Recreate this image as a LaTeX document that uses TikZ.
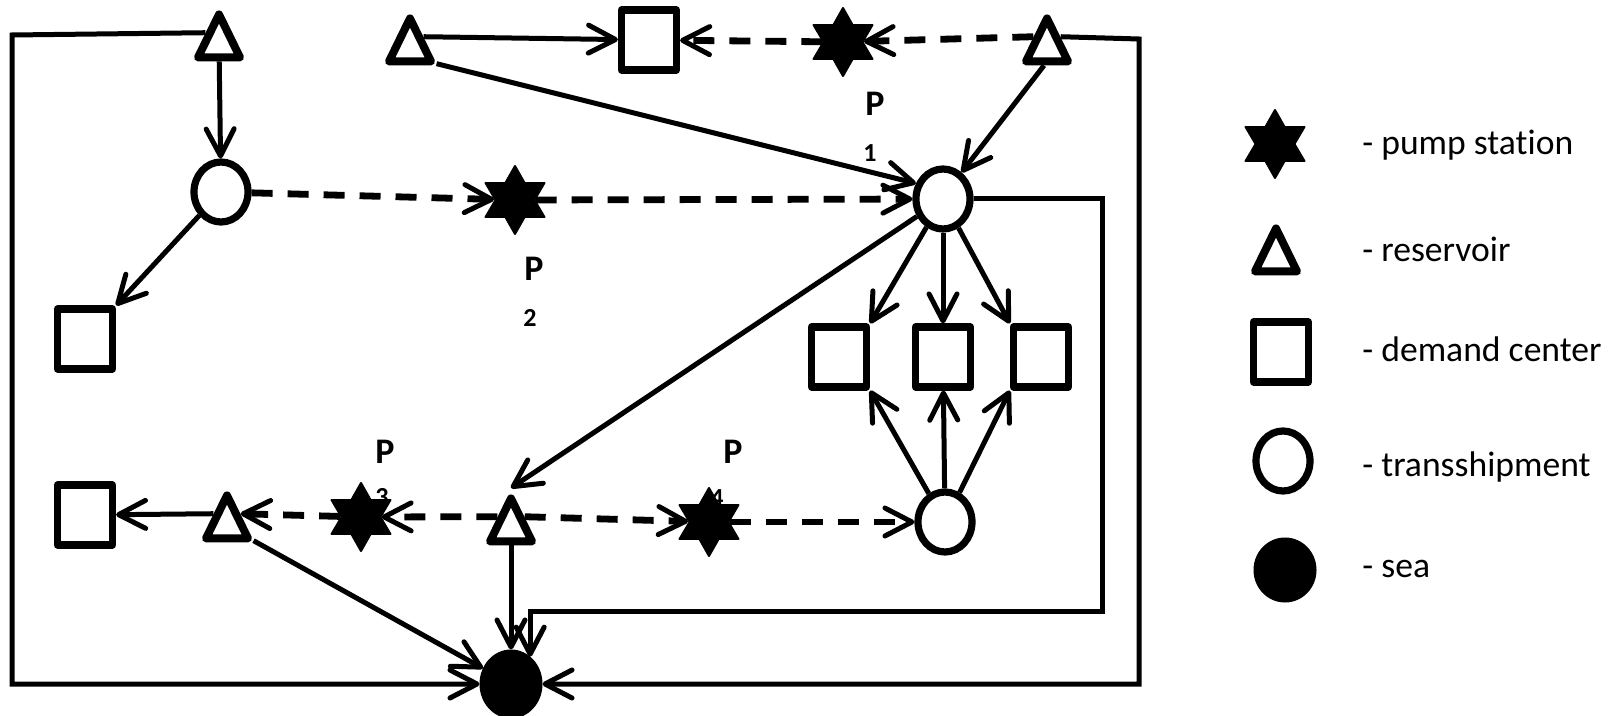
\documentclass[tikz,border=0pt]{standalone}
\usepackage{fontspec}
\setmainfont{Carlito}[Ligatures={NoCommon}]
\usetikzlibrary{shapes.geometric,arrows.meta}

\tikzset{
  tri/.style={isosceles triangle, isosceles triangle stretches, shape border rotate=90,
    minimum width=21pt, minimum height=21.5pt, inner sep=0pt, anchor=apex,
    draw, line width=4pt, line join=round, fill=white},
  sq/.style={rectangle, minimum width=27.5pt, minimum height=30pt, inner sep=0pt,
    draw, line width=3.6pt, line join=round, fill=white},
  tship/.style={ellipse, minimum width=27pt, minimum height=30pt, inner sep=0pt,
    draw, line width=3.6pt, fill=white},
  seanode/.style={ellipse, minimum width=31pt, minimum height=34pt, inner sep=0pt,
    fill=black, draw, line width=0.5pt},
  pump/.style={star, star points=6, star point ratio=1.75, minimum size=34pt, inner sep=0pt,
    fill=black, draw, line width=1pt, line join=round},
  flow/.style={line width=2.5pt,
    -{Straight Barb[length=13.5pt,width=14pt,line width=2.5pt,round]}},
  pumpflow/.style={flow, line width=3.4pt, dash pattern=on 10.5pt off 7.5pt},
  plabel/.style={font=\bfseries\fontsize{18}{18}\selectfont, inner sep=0pt},
  pidx/.style={font=\bfseries\fontsize{13}{13}\selectfont, inner sep=0pt},
  legtext/.style={anchor=base west, inner sep=0pt, font=\fontsize{17.8}{18}\selectfont}
}

\begin{document}
\begin{tikzpicture}[x=0.5pt, y=-0.5pt]
\useasboundingbox[fill=white] (0,0) rectangle (1612,716);

% pump station labels (drawn first so the stars sit on top)
\node[plabel] (P1a) at (875,104) {P};
\node[pidx]   (P1b) at (870,153) {1};
\node[plabel] (P2a) at (534,269) {P};
\node[pidx]   (P2b) at (530,318) {2};
\node[plabel] (P3a) at (385,452) {P};
\node[pidx]   (P3b) at (382,497) {3};
\node[plabel] (P4a) at (733,452) {P};
\node[pidx]   (P4b) at (717,498) {4};

% network nodes (reservoirs are placed by their apex)
\node[tri]   (T1) at (219,4) {};
\node[tri]   (T2) at (410,8) {};
\node[sq]    (S1) at (649,40) {};
\node[pump]  (P1) at (843,42) {};
\node[tri]   (T3) at (1047,8) {};
\node[tship] (C1) at (221,192) {};
\node[pump]  (P2) at (515,200) {};
\node[tship] (C2) at (943,199) {};
\node[sq]    (S2) at (85,339) {};
\node[sq]    (S3) at (839,357) {};
\node[sq]    (S4) at (943,357) {};
\node[sq]    (S5) at (1041,357) {};
\node[tship] (C3) at (945,522) {};
\node[sq]    (S6) at (85,515) {};
\node[tri]   (T4) at (227,485) {};
\node[pump]  (P3) at (361,517) {};
\node[tri]   (T5) at (511,488) {};
\node[pump]  (P4) at (709,522) {};
\node[seanode] (Sea) at (511,684) {};

% bends of the outer and inner return lines
\coordinate (LoopL) at (12,35);
\coordinate (LoopR) at (1139,39);
\coordinate (LoopI) at (1102,611);

% solid flows
\draw[flow] (T1) -- (C1);
\draw[flow] (T1.left side) -- (LoopL) |- (Sea);
\draw[flow] (T2.right side) -- (S1);
\draw[flow] (T2.-30) -- (C2.150);
\draw[flow] (T3.-100) -- (C2.55);
\draw[flow] (T3.right side) -- (LoopR) |- (Sea);
\draw[flow] (C1) -- (S2.north east);
\draw[flow] (C2) -- (T5.apex);
\draw[flow] (C2) -- (S3.north east);
\draw[flow] (C2) -- (S4);
\draw[flow] (C2) -- (S5.north west);
\draw[flow] (C2) -| (LoopI) -| (Sea.55);
\draw[flow] (C3) -- (S3.south east);
\draw[flow] (C3) -- (S4);
\draw[flow] (C3) -- (S5.south west);
\draw[flow] (T4.left side) -- (S6);
\draw[flow] (T4.-30) -- (Sea);
\draw[flow] (T5) -- (Sea);

% pumped flows
\draw[pumpflow] (P1) -- (S1);
\draw[pumpflow] (T3.left side) -- (P1);
\draw[pumpflow] (C1) -- (P2);
\draw[pumpflow] (P2) -- (C2);
\draw[pumpflow] (T5.left side) -- (P3);
\draw[pumpflow] (P3) -- (T4.right side);
\draw[pumpflow] (T5.right side) -- (P4);
\draw[pumpflow] (P4) -- (C3);

% legend
\node[pump]    (LP)   at (1275,144) {};
\node[tri]     (LT)   at (1276,218) {};
\node[sq]      (LS)   at (1281,352) {};
\node[tship]   (LC)   at (1283,461) {};
\node[seanode, minimum height=32pt] (LSea) at (1285,570) {};
\node[legtext] (LPt)  at (1362,155) {- pump station};
\node[legtext] (LTt)  at (1362,262) {- reservoir};
\node[legtext] (LSt)  at (1362,362) {- demand center};
\node[legtext] (LCt)  at (1362,477) {- transshipment};
\node[legtext] (LSeat) at (1362,577) {- sea};
\end{tikzpicture}
\end{document}
